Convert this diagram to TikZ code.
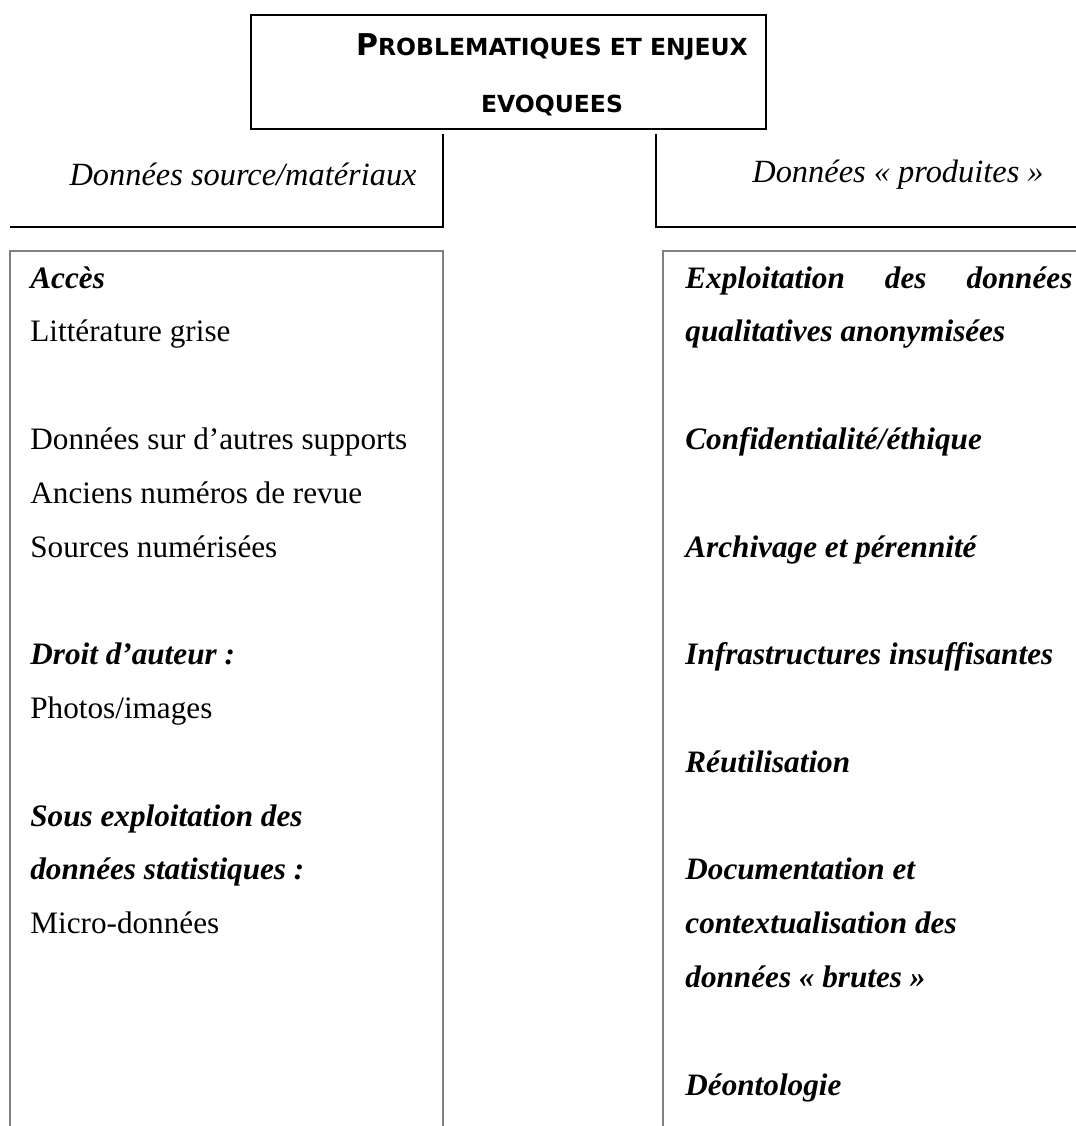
\documentclass[tikz,border=0pt]{standalone}
\usepackage{fontspec}
\setmainfont{Liberation Serif}
\newfontfamily\titlefont{DejaVu Sans}
\definecolor{panelgray}{RGB}{128,128,128}
\tikzset{
  txt/.style={inner sep=0pt, anchor=base west, font=\fontsize{15.6}{18}\selectfont},
  btxt/.style={inner sep=0pt, anchor=base west, font=\fontsize{15.6}{18}\selectfont\bfseries\itshape},
  lbl/.style={inner sep=0pt, font=\fontsize{16.2}{19}\selectfont\itshape},
  ttl/.style={inner sep=0pt, anchor=base, font=\titlefont\bfseries\fontsize{11.75}{14}\selectfont},
  framebox/.style={draw=black, line width=1pt, inner sep=0pt},
  panel/.style={draw=panelgray, line width=0.9pt, inner sep=0pt},
  conn/.style={draw=black, line width=1pt},
}
\begin{document}
\begin{tikzpicture}[x=0.5pt,y=-0.5pt]
\useasboundingbox (0,0) rectangle (1076,1126);
\clip (0,0) rectangle (1076,1126);
% title
\node[framebox, anchor=north west, minimum width=257.5pt, minimum height=57pt] (title) at (250,14) {};
\node[ttl] (t1) at (552,55) {{\fontsize{15}{18}\selectfont P}ROBLEMATIQUES ET ENJEUX};
\node[ttl] (t2) at (552,112) {EVOQUEES};
% connectors
\coordinate (lcorner) at (443,227);
\coordinate (lend) at (10,227);
\coordinate (rcorner) at (656,227);
\coordinate (rend) at (1080,227);
\draw[conn] ([yshift=-2pt]title.south -| lcorner) -- (lcorner) -- (lend);
\draw[conn] ([yshift=-2pt]title.south -| rcorner) -- (rcorner) -- (rend);
% labels
\node[lbl, anchor=base east] (srcl) at (417,185) {Données source/matériaux};
\node[lbl, anchor=base west] (prodl) at (752,182) {Données «~produites~»};
% panels
\node[panel, anchor=north west, minimum width=216.5pt, minimum height=460pt] (leftpanel) at (9,250) {};
\node[panel, anchor=north west, minimum width=225pt, minimum height=460pt] (rightpanel) at (662,250) {};
% left column
\node[btxt] (l0) at (30,288) {Accès};
\node[txt] (l1) at (30,341.8) {Littérature grise};
\node[txt] (l3) at (30,449.4) {Données sur d’autres supports};
\node[txt] (l4) at (30,503.2) {Anciens numéros de revue};
\node[txt] (l5) at (30,557) {Sources numérisées};
\node[btxt] (l7) at (30,664.6) {Droit d’auteur :};
\node[txt] (l8) at (30,718.4) {Photos/images};
\node[btxt] (l10) at (30,826) {Sous exploitation des};
\node[btxt] (l11) at (30,879.8) {données statistiques :};
\node[txt] (l12) at (30,933.6) {Micro-données};
% right column
\node[btxt] (r0) at (685,288) {\makebox[193.5pt][s]{Exploitation\hfill des\hfill données}};
\node[btxt] (r1) at (685,341.8) {qualitatives anonymisées};
\node[btxt] (r3) at (685,449.4) {Confidentialité/éthique};
\node[btxt] (r5) at (685,557) {Archivage et pérennité};
\node[btxt] (r7) at (685,664.6) {Infrastructures insuffisantes};
\node[btxt] (r9) at (685,772.2) {Réutilisation};
\node[btxt] (r11) at (685,879.8) {Documentation et};
\node[btxt] (r12) at (685,933.6) {contextualisation des};
\node[btxt] (r13) at (685,987.4) {données «~brutes~»};
\node[btxt] (r15) at (685,1095) {Déontologie};
\end{tikzpicture}
\end{document}
